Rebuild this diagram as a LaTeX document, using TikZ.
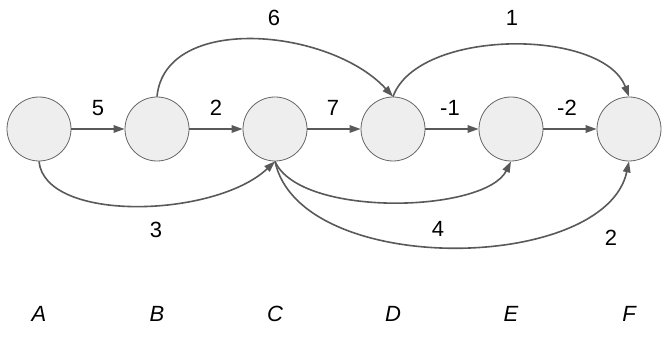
\documentclass[tikz,border=0pt]{standalone}
\usepackage{fontspec}
\setmainfont{Liberation Sans}
\usetikzlibrary{arrows.meta}
\definecolor{edgec}{HTML}{595959}
\definecolor{nodefill}{HTML}{EEEEEE}
\definecolor{nodeline}{HTML}{666666}
\begin{document}
\begin{tikzpicture}[x=1pt,y=1pt,
  vert/.style={circle,draw=nodeline,fill=nodefill,line width=0.8pt,minimum size=64pt,inner sep=0pt},
  conn/.style={draw=edgec,line width=1.6pt,-{Triangle[length=11pt,width=7.5pt]}},
  wlab/.style={font=\fontsize{22}{26}\selectfont,text=black,inner sep=0pt},
  vlab/.style={font=\fontsize{22}{26}\selectfont\itshape,text=black,inner sep=0pt}]
\useasboundingbox (0,0) rectangle (666,343);
\node[vert] (A) at (39,214) {};
\node[vert] (B) at (157,214) {};
\node[vert] (C) at (275,214) {};
\node[vert] (D) at (393,214) {};
\node[vert] (E) at (511,214) {};
\node[vert] (F) at (629,214) {};
\draw[conn] (A) -- (B);
\draw[conn] (B) -- (C);
\draw[conn] (C) -- (D);
\draw[conn] (D) -- (E);
\draw[conn] (E) -- (F);
\draw[conn] (B.north) .. controls (165,330) and (330,315) .. (D.north);
\draw[conn] (D.north) .. controls (418,315) and (603,315) .. (F.north);
\draw[conn] (A.south) .. controls (45,120) and (215,125) .. (C.south);
\draw[conn] (C.south) .. controls (300,125) and (485,130) .. (E.south);
\draw[conn] (C.south) .. controls (300,65) and (605,70) .. (F.south);
\node[wlab] (l5) at (98,235) {5};
\node[wlab] (l2) at (216,235) {2};
\node[wlab] (l7) at (333,235) {7};
\node[wlab] (lm1) at (450,235) {-1};
\node[wlab] (lm2) at (567,235) {-2};
\node[wlab] (l6) at (274,325) {6};
\node[wlab] (l1) at (512,325) {1};
\node[wlab] (l3) at (156,113) {3};
\node[wlab] (l4) at (438,114) {4};
\node[wlab] (l2b) at (611,105) {2};
\node[vlab] (nA) at (39,29) {A};
\node[vlab] (nB) at (157,29) {B};
\node[vlab] (nC) at (275,29) {C};
\node[vlab] (nD) at (393,29) {D};
\node[vlab] (nE) at (511,29) {E};
\node[vlab] (nF) at (629,29) {F};
\end{tikzpicture}
\end{document}
